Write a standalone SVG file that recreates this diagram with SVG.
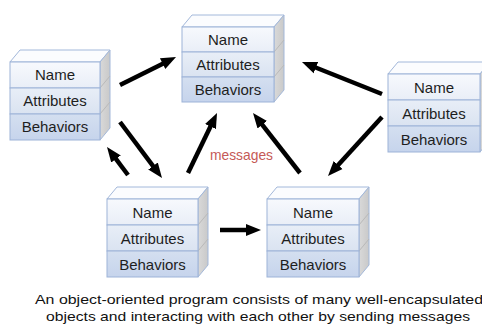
<svg xmlns="http://www.w3.org/2000/svg" width="482" height="331" viewBox="0 0 482 331">
  <style>
    .top { fill: #fbfcfe; stroke: #a3b8da; stroke-width: 1; }
    .side { fill: url(#sideGrad); stroke: #a3b8da; stroke-width: 1; }
    .sideln { stroke: #b9b9b9; stroke-width: 1; fill: none; }
    .r1 { fill: url(#g1); stroke: #9db3d8; stroke-width: 1; }
    .r2 { fill: url(#g2); stroke: #9db3d8; stroke-width: 1; }
    .r3 { fill: url(#g3); stroke: #9db3d8; stroke-width: 1; }
    .lbl { font-family: "Liberation Sans", Arial, sans-serif; font-size: 15px; fill: #1e1e1e; text-anchor: middle; }
    .arrow { stroke: #000; stroke-width: 4.5; fill: none; marker-end: url(#ah); }
    .msg { font-family: "Liberation Sans", Arial, sans-serif; font-size: 15px; fill: #c55a57; }
    .cap { font-family: "Liberation Sans", Arial, sans-serif; font-size: 13.5px; fill: #111; }
  </style>
  <defs>
    <linearGradient id="g1" x1="0" y1="0" x2="0" y2="1">
      <stop offset="0" stop-color="#f7f9fd"/>
      <stop offset="1" stop-color="#e9eef7"/>
    </linearGradient>
    <linearGradient id="g2" x1="0" y1="0" x2="0" y2="1">
      <stop offset="0" stop-color="#e8eef7"/>
      <stop offset="1" stop-color="#dae3f1"/>
    </linearGradient>
    <linearGradient id="g3" x1="0" y1="0" x2="0" y2="1">
      <stop offset="0" stop-color="#d4dff0"/>
      <stop offset="1" stop-color="#c6d4ec"/>
    </linearGradient>
    <linearGradient id="sideGrad" x1="0" y1="0" x2="1" y2="0">
      <stop offset="0" stop-color="#d9d9d9"/>
      <stop offset="1" stop-color="#c9c9c9"/>
    </linearGradient>
    <marker id="ah" markerUnits="userSpaceOnUse" markerWidth="16" markerHeight="14" refX="3" refY="7" orient="auto">
      <path d="M0,1 L15,7 L0,13 z" fill="#000"/>
    </marker>
  </defs>

  <!-- object at the top centre -->
  <g id="obj-top" transform="translate(182,27)">
    <polygon class="top" points="0,0 10,-12 102,-12 92,0"/>
    <polygon class="side" points="92,0 102,-12 102,63 92,75"/>
    <path class="sideln" d="M92,25 L102,13 M92,50 L102,38"/>
    <rect class="r1" x="0" y="0" width="92" height="25"/>
    <rect class="r2" x="0" y="25" width="92" height="25"/>
    <rect class="r3" x="0" y="50" width="92" height="25"/>
    <text class="lbl" x="46" y="18">Name</text>
    <text class="lbl" x="46" y="43">Attributes</text>
    <text class="lbl" x="46" y="68">Behaviors</text>
  </g>

  <!-- object on the left -->
  <g id="obj-left" transform="translate(10,62)">
    <polygon class="top" points="0,0 10,-12 100,-12 90,0"/>
    <polygon class="side" points="90,0 100,-12 100,66 90,78"/>
    <path class="sideln" d="M90,26 L100,14 M90,52 L100,40"/>
    <rect class="r1" x="0" y="0" width="90" height="26"/>
    <rect class="r2" x="0" y="26" width="90" height="26"/>
    <rect class="r3" x="0" y="52" width="90" height="26"/>
    <text class="lbl" x="45" y="18">Name</text>
    <text class="lbl" x="45" y="44">Attributes</text>
    <text class="lbl" x="45" y="70">Behaviors</text>
  </g>

  <!-- object on the right -->
  <g id="obj-right" transform="translate(388,74)">
    <polygon class="top" points="0,0 10,-12 102,-12 92,0"/>
    <polygon class="side" points="92,0 102,-12 102,66 92,78"/>
    <rect class="r1" x="0" y="0" width="92" height="26"/>
    <rect class="r2" x="0" y="26" width="92" height="26"/>
    <rect class="r3" x="0" y="52" width="92" height="26"/>
    <text class="lbl" x="46" y="19">Name</text>
    <text class="lbl" x="46" y="45">Attributes</text>
    <text class="lbl" x="46" y="71">Behaviors</text>
  </g>

  <!-- object at the bottom left -->
  <g id="obj-bottom-left" transform="translate(107,199)">
    <polygon class="top" points="0,0 10,-12 101,-12 91,0"/>
    <polygon class="side" points="91,0 101,-12 101,66 91,78"/>
    <path class="sideln" d="M91,26 L101,14 M91,52 L101,40"/>
    <rect class="r1" x="0" y="0" width="91" height="26"/>
    <rect class="r2" x="0" y="26" width="91" height="26"/>
    <rect class="r3" x="0" y="52" width="91" height="26"/>
    <text class="lbl" x="45.5" y="19">Name</text>
    <text class="lbl" x="45.5" y="45">Attributes</text>
    <text class="lbl" x="45.5" y="71">Behaviors</text>
  </g>

  <!-- object at the bottom right -->
  <g id="obj-bottom-right" transform="translate(267,199)">
    <polygon class="top" points="0,0 10,-12 102,-12 92,0"/>
    <polygon class="side" points="92,0 102,-12 102,66 92,78"/>
    <path class="sideln" d="M92,26 L102,14 M92,52 L102,40"/>
    <rect class="r1" x="0" y="0" width="92" height="26"/>
    <rect class="r2" x="0" y="26" width="92" height="26"/>
    <rect class="r3" x="0" y="52" width="92" height="26"/>
    <text class="lbl" x="46" y="19">Name</text>
    <text class="lbl" x="46" y="45">Attributes</text>
    <text class="lbl" x="46" y="71">Behaviors</text>
  </g>

  <!-- message arrows -->
  <g id="connectors">
    <line class="arrow" x1="120" y1="85" x2="165.3" y2="62.4"/>
    <line class="arrow" x1="382" y1="94" x2="313.1" y2="66.5"/>
    <line class="arrow" x1="382" y1="117" x2="336.1" y2="167.2"/>
    <line class="arrow" x1="300" y1="173" x2="260.4" y2="122.4"/>
    <line class="arrow" x1="188" y1="173" x2="211.8" y2="123.8"/>
    <line class="arrow" x1="120" y1="122" x2="154.8" y2="168.4"/>
    <line class="arrow" x1="128" y1="175" x2="114.2" y2="156.6"/>
    <line class="arrow" x1="220" y1="230" x2="249" y2="230"/>
  </g>

  <text class="msg" x="210" y="160" textLength="63" lengthAdjust="spacingAndGlyphs">messages</text>

  <text class="cap" x="35" y="304" textLength="448" lengthAdjust="spacingAndGlyphs">An object-oriented program consists of many well-encapsulated</text>
  <text class="cap" x="46" y="321" textLength="424" lengthAdjust="spacingAndGlyphs">objects and interacting with each other by sending messages</text>
</svg>
